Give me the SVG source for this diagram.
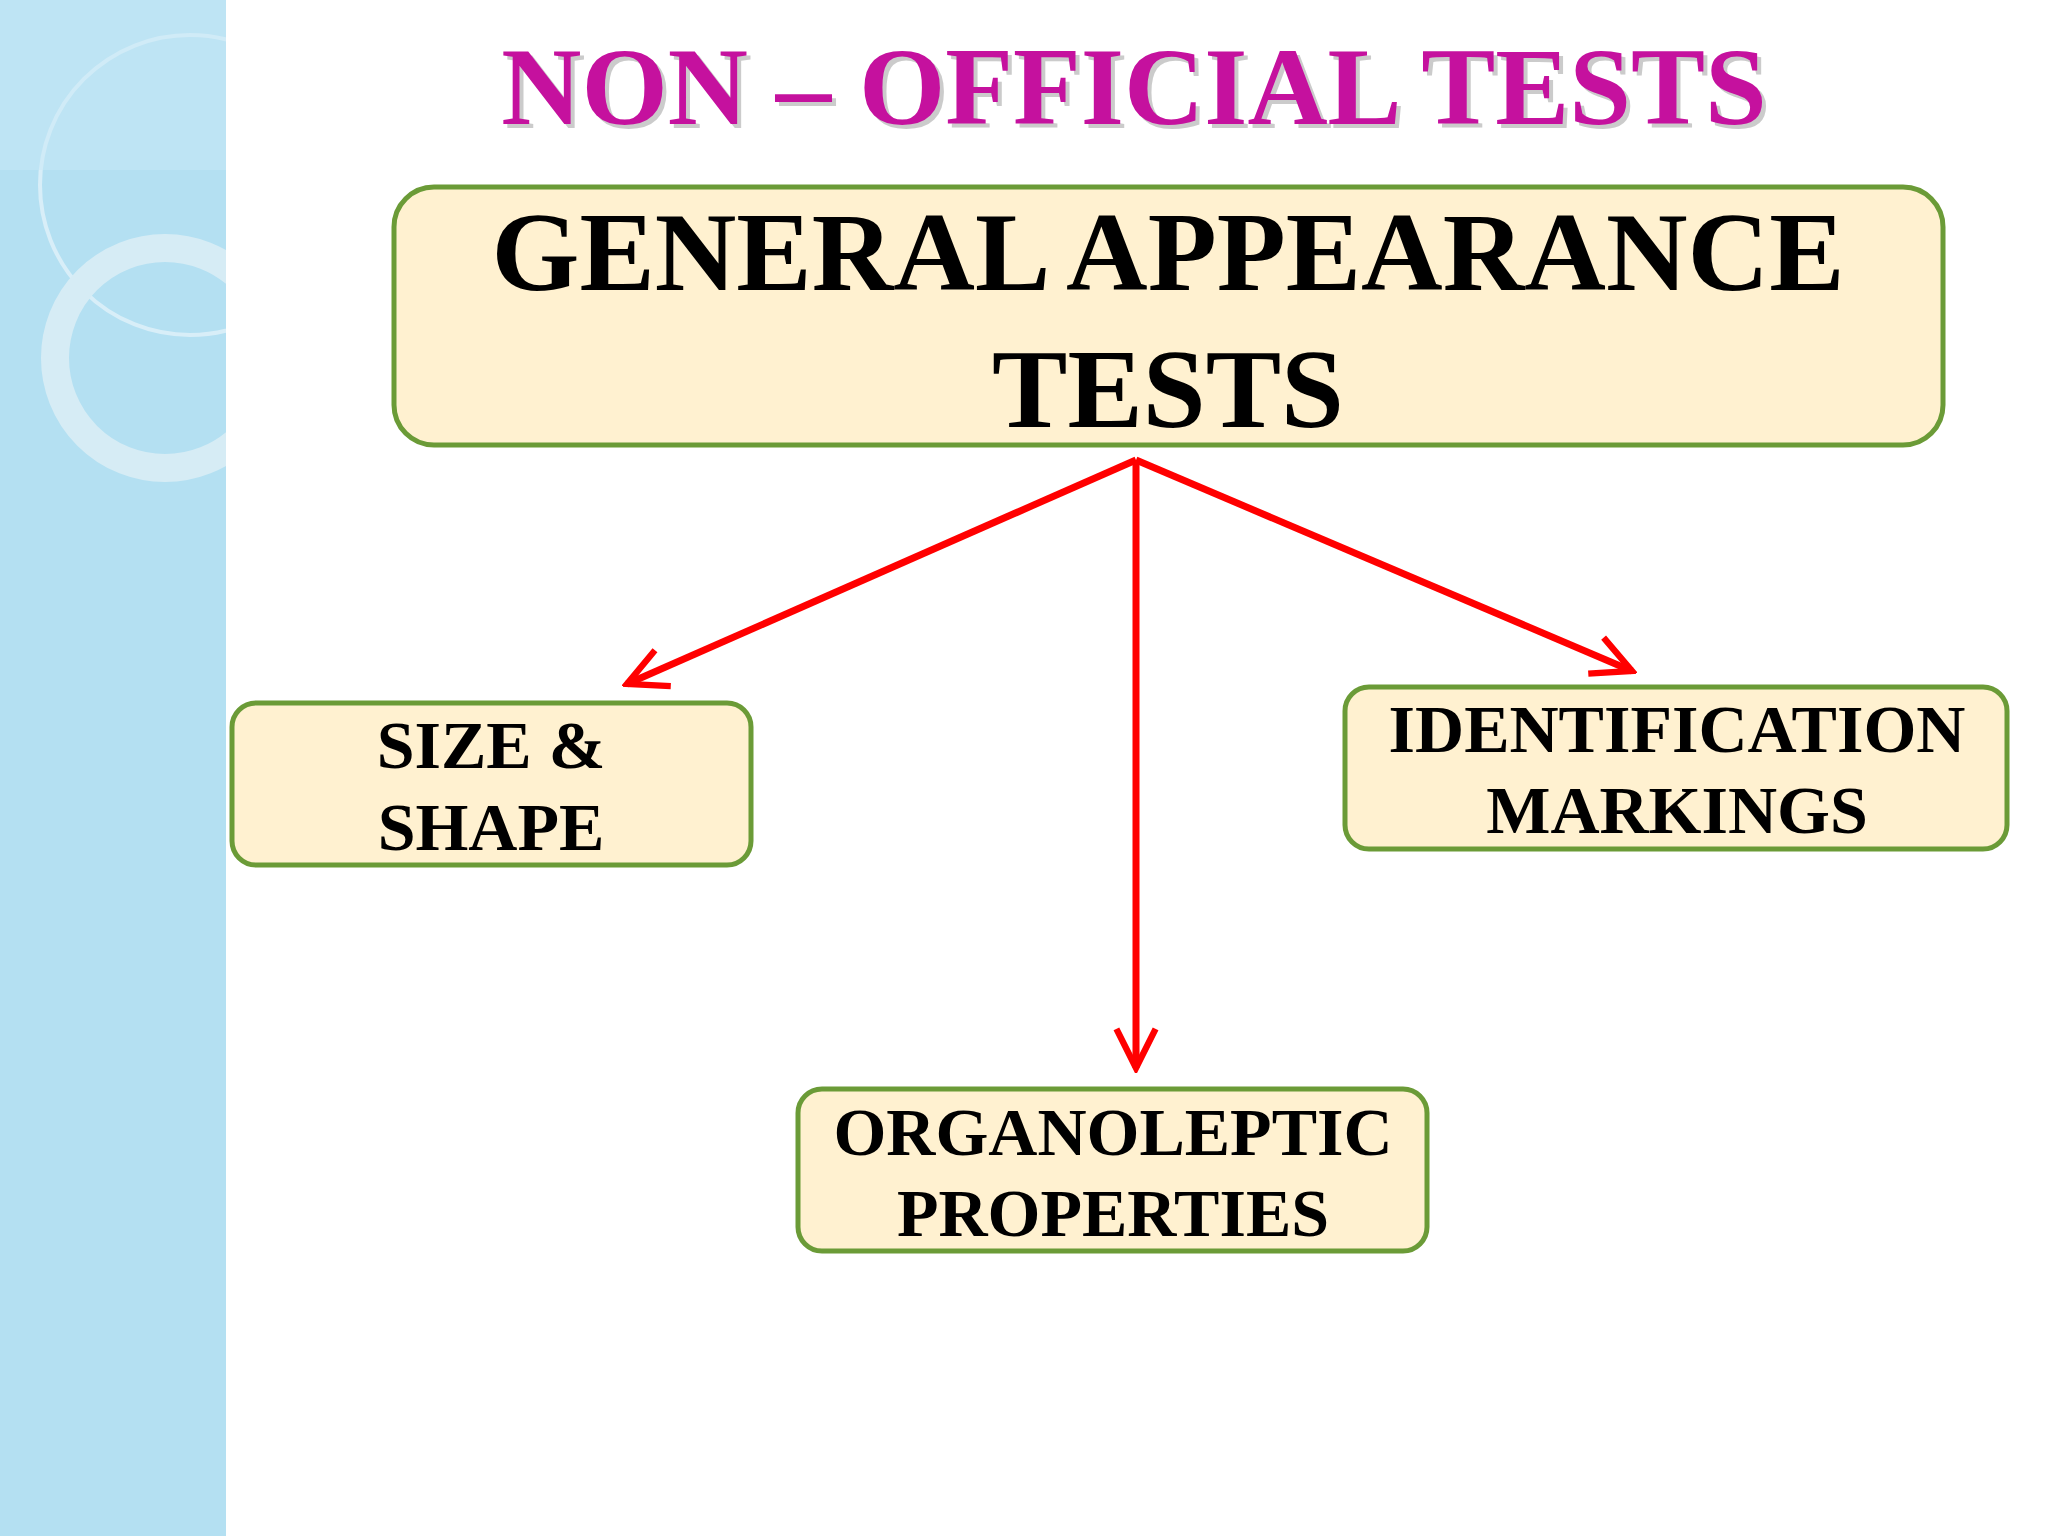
<svg xmlns="http://www.w3.org/2000/svg" width="2048" height="1536" viewBox="0 0 2048 1536">
<defs>
<style>
.box{fill:#FFF1D0;stroke:#6B9B37;stroke-width:5}
.t{font-family:"Liberation Serif",serif;font-weight:bold;fill:#000;text-anchor:middle}
.c{stroke:#FF0000;stroke-width:7;fill:none}
</style>
<clipPath id="sc"><rect x="0" y="0" width="226" height="1536"/></clipPath>
<marker id="a2" viewBox="0 0 10 10" refX="9" refY="5" markerWidth="7" markerHeight="7" orient="auto">
<path d="M1,1 L9,5 L1,9" fill="none" stroke="#FF0000" stroke-width="1.3"/>
</marker>
</defs>
<rect width="2048" height="1536" fill="#fff"/>
<g id="strip" clip-path="url(#sc)">
<rect x="0" y="0" width="226" height="1536" fill="#B4E0F2"/>
<circle cx="190" cy="185" r="150" fill="none" stroke="#D8EEF8" stroke-width="4"/>
<circle cx="165" cy="358" r="110" fill="none" stroke="#D6ECF5" stroke-width="28"/>
<rect x="0" y="0" width="226" height="170" fill="#C8E8F5" opacity="0.5"/>
</g>
<text x="1134" y="124" font-family="Liberation Serif,serif" font-weight="bold" font-size="111" fill="#999" text-anchor="middle" opacity="0.5" transform="translate(4,4)">NON – OFFICIAL TESTS</text>
<text x="1134" y="124" font-family="Liberation Serif,serif" font-weight="bold" font-size="111" fill="#C5119E" text-anchor="middle">NON – OFFICIAL TESTS</text>
<g id="main"><rect class="box" x="394" y="187" width="1549" height="258" rx="40"/>
<text class="t" x="1168" y="290" font-size="113">GENERAL APPEARANCE</text>
<text class="t" x="1168" y="427" font-size="113">TESTS</text></g>
<g id="size"><rect class="box" x="232" y="703" width="519" height="162" rx="24"/>
<text class="t" x="491" y="768" font-size="68">SIZE &amp;</text>
<text class="t" x="491" y="850" font-size="68">SHAPE</text></g>
<g id="ident"><rect class="box" x="1345" y="687" width="662" height="162" rx="24"/>
<text class="t" x="1677" y="752" font-size="68">IDENTIFICATION</text>
<text class="t" x="1677" y="833" font-size="68">MARKINGS</text></g>
<g id="organo"><rect class="box" x="798" y="1089" width="629" height="162" rx="24"/>
<text class="t" x="1113" y="1155" font-size="68">ORGANOLEPTIC</text>
<text class="t" x="1113" y="1236" font-size="68">PROPERTIES</text></g>
<g id="connectors">
<line class="c" x1="1136" y1="460" x2="627" y2="684" marker-end="url(#a2)"/>
<line class="c" x1="1136" y1="460" x2="1136" y2="1068" marker-end="url(#a2)"/>
<line class="c" x1="1136" y1="460" x2="1632" y2="671" marker-end="url(#a2)"/>
</g>
</svg>
